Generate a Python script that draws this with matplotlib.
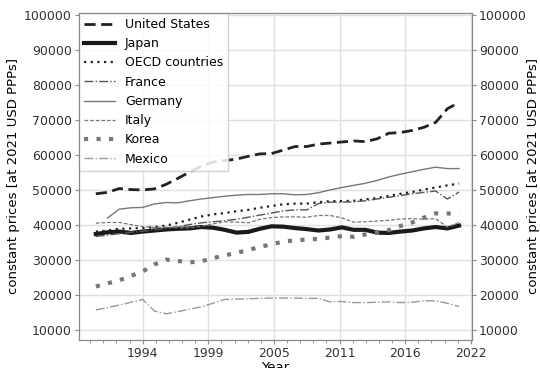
import numpy as np
import matplotlib
matplotlib.use('Agg')
import matplotlib.pyplot as plt
from matplotlib.ticker import AutoMinorLocator

plt.rcParams['font.family'] = 'DejaVu Sans'
plt.rcParams['font.size'] = 9

years = np.arange(1990, 2022)

united_states = [48800, 49200, 50300, 50000, 49900, 50200, 51500, 53200, 55000, 56700,
                 57900, 58300, 58700, 59500, 60200, 60300, 61300, 62300, 62300, 63000,
                 63300, 63600, 63900, 63700, 64500, 66100, 66300, 66900, 67800, 69200,
                 73100, 74900]
japan = [37300, 37800, 38000, 37600, 38000, 38300, 38600, 38800, 38900, 39300,
         39100, 38500, 37700, 37900, 38800, 39500, 39400, 39000, 38700, 38300,
         38600, 39200, 38500, 38500, 37700, 37600, 38000, 38300, 38900, 39300,
         38900, 39700]
oecd = [38000, 38300, 38800, 38900, 39000, 39300, 39700, 40500, 41400, 42300,
        42900, 43300, 43800, 44200, 44800, 45300, 45800, 46000, 46000, 46400,
        46700, 46700, 46800, 47200, 47600, 48200, 48800, 49300, 50000, 50600,
        51200, 51700]
france = [36600, 37000, 37400, 37800, 38100, 38500, 38900, 39400, 40000, 40500,
          40800, 41100, 41500, 42100, 42700, 43300, 43900, 44200, 44200, 46000,
          46400, 46400, 46500, 46800, 47300, 47800, 48300, 48800, 49200, 49600,
          47300, 49300]
germany = [np.nan, 41900, 44400, 44800, 44900, 45900, 46300, 46200, 46800, 47300,
           47700, 48100, 48400, 48600, 48600, 48800, 48800, 48500, 48600, 49100,
           49900, 50600, 51200, 51800, 52600, 53600, 54400, 55100, 55800, 56400,
           56000, 56000]
italy = [40400, 40600, 40600, 40000, 39400, 39200, 39300, 39100, 39100, 39500,
         40200, 40800, 40700, 40500, 41500, 42000, 42200, 42200, 42100, 42600,
         42600, 41900, 40700, 40800, 41000, 41200, 41600, 41700, 41500, 41700,
         39300, 40600]
korea = [22300, 23200, 24100, 25300, 26600, 28600, 30000, 29600, 29200, 29500,
         30400, 31200, 31900, 32700, 33600, 34400, 35100, 35500, 35700, 35900,
         36300, 36700, 36500, 37200, 37700, 38400, 39600, 40600, 42000, 43200,
         43200, 42800]
mexico = [15600, 16300, 17000, 17800, 18600, 15300, 14500, 15100, 15800, 16500,
          17500, 18600, 18700, 18800, 18900, 19000, 19000, 19000, 18900, 18900,
          17900, 18000, 17700, 17700, 17800, 17900, 17700, 17800, 18200, 18200,
          17500, 16600]

xtick_pos = [1994, 1999.6, 2005.2, 2010.8, 2016.4, 2022]
xtick_labels = ['1994', '1999', '2005', '2011', '2016', '2022']
ylabel = 'constant prices [at 2021 USD PPPs]'

fig, ax = plt.subplots(figsize=(5.4, 3.68), dpi=100)
fig.subplots_adjust(left=0.146, right=0.874, top=0.965, bottom=0.076)

ax.plot(years, united_states, color='#222222', ls=(0, (4, 2)), lw=2, label='United States')
ax.plot(years, japan, color='#1a1a1a', ls='-', lw=3, label='Japan')
ax.plot(years, oecd, color='#222222', ls=(0, (1, 2)), lw=1.6, label='OECD countries')
ax.plot(years, france, color='#555555', ls='-.', lw=1, label='France')
ax.plot(years, germany, color='#777777', ls='-', lw=1, label='Germany')
ax.plot(years, italy, color='#777777', ls=(0, (3, 1.5)), lw=0.9, label='Italy')
ax.plot(years, korea, color='#777777', ls=(0, (1, 2)), lw=3, label='Korea')
ax.plot(years, mexico, color='#999999', ls='-.', lw=1, label='Mexico')

ax.set_xlim(1988.55, 2022.1)
ax.set_ylim(7000, 100500)
ax.set_yticks(np.arange(10000, 100001, 10000))
ax.set_xticks(xtick_pos)
ax.set_xticklabels(xtick_labels)
ax.xaxis.set_minor_locator(AutoMinorLocator(5))
ax.grid(True, which='major', color='#e0e0e0', lw=1)
ax.set_axisbelow(True)
ax.set_xlabel('Year', fontsize=9.5, labelpad=1)
ax.set_ylabel(ylabel, fontsize=9.5, labelpad=3)

ax2 = ax.twinx()
ax2.set_ylim(ax.get_ylim())
ax2.set_yticks(np.arange(10000, 100001, 10000))
ax2.set_ylabel(ylabel, fontsize=9.5, labelpad=0)

for a in (ax, ax2):
    for s in a.spines.values():
        s.set_color('#888888')
    a.tick_params(colors='#333333', labelsize=9, length=3, pad=2, color='#888888')
ax.tick_params(axis='x', which='minor', length=2, color='#888888')

leg = ax.legend(loc='upper left', fontsize=9, framealpha=0.85, edgecolor='#cccccc',
                fancybox=False, borderaxespad=0.0, handlelength=2.5)

plt.savefig('out.png', dpi=100)
plt.close()
